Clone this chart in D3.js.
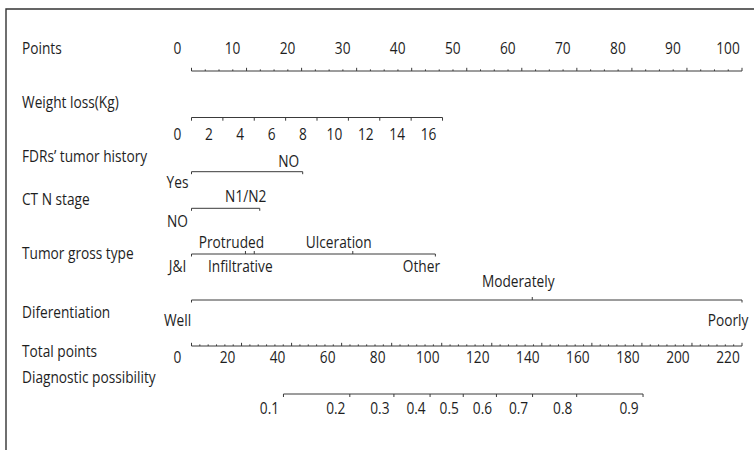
<!DOCTYPE html>
<html>
<head>
<meta charset="utf-8">
<script src="https://cdn.jsdelivr.net/npm/d3@7/dist/d3.min.js"></script>
<style>
  body { margin: 0; background: #fff; }
  svg text {
    font-family: "Open Sans", "Liberation Sans", sans-serif;
    font-size: 16.5px;
    fill: #1e1e1e;
  }
</style>
</head>
<body>
<svg id="nomo" width="754" height="450"></svg>
<script>
// ---- Nomogram data -------------------------------------------------------
const pointTicks = d3.range(0, 101, 10);

const weightTicks = d3.range(0, 17, 2);       // kg
const weightMaxKg = 16;
const weightMaxPoints = 45.6;                 // points at 16 kg

const fdrLevels = ["Yes", "NO"];
const fdrPoints = [0, 20.2];

const ctnLevels = ["NO", "N1/N2"];
const ctnPoints = [0, 12.4];

const grossLevels = ["J&I", "Protruded", "Infiltrative", "Ulceration", "Other"];
const grossPoints = [0, 9.8, 11.4, 29.3, 44.3];

const diffLevels = ["Well", "Moderately", "Poorly"];
const diffPoints = [0, 61.9, 100];

const totalTicks = d3.range(0, 221, 20);

const probTicks = [0.1, 0.2, 0.3, 0.4, 0.5, 0.6, 0.7, 0.8, 0.9];
const probMidTotal = 108.6;     // total points where possibility = 0.5
const totalPerLogit = 32.7;     // total points per unit of log-odds

// ---- Layout --------------------------------------------------------------
const svg = d3.select("#nomo");
const x0 = 191.5, x1 = 742;
const labelShift = -14;          // value labels sit just left of their tick
const squeeze = 0.83;            // condensed lettering
const ink = "#3a3a3a";

const xPoints = d3.scaleLinear().domain([0, 100]).range([x0, x1]);
const xTotal = d3.scaleLinear().domain([0, 220]).range([x0, x1]);
const xWeight = d3.scaleLinear().domain([0, weightMaxKg])
  .range([xPoints(0), xPoints(weightMaxPoints)]);
const logit = p => Math.log(p / (1 - p));
const xProb = p => xTotal(probMidTotal + totalPerLogit * logit(p));

// frame (top and left edges)
svg.append("path")
  .attr("d", "M6,450V9H754")
  .attr("fill", "none").attr("stroke", "#333").attr("stroke-width", 1.4);

function place(sel, fx, fy) {
  return sel.attr("transform", d => `translate(${fx(d)},${fy(d)}) scale(${squeeze},1)`);
}

// row titles
const rowTitles = [
  ["Points", 54], ["Weight loss(Kg)", 108], ["FDRs\u2019 tumor history", 161.5],
  ["CT N stage", 205], ["Tumor gross type", 259], ["Diferentiation", 318],
  ["Total points", 357], ["Diagnostic possibility", 383]
];
place(svg.selectAll("text.title").data(rowTitles).join("text").attr("class", "title"),
  () => 22, d => d[1]).text(d => d[0]);

function baseLine(xa, xb, y) {
  svg.append("line").attr("x1", xa).attr("x2", xb).attr("y1", y).attr("y2", y)
    .attr("stroke", ink).attr("stroke-width", 1);
}
function ticks(xs, y, len) {
  svg.append("g").selectAll("line").data(xs).join("line")
    .attr("x1", d => d).attr("x2", d => d)
    .attr("y1", y).attr("y2", y + len)
    .attr("stroke", ink).attr("stroke-width", 1);
}
function labels(items, y) {
  place(svg.append("g").selectAll("text").data(items).join("text"),
    d => d[0] + labelShift, () => y)
    .attr("text-anchor", "middle").text(d => d[1]);
}

// Points
{
  const y = 71;
  baseLine(xPoints(0), xPoints(100), y);
  ticks(d3.range(0, 100.01, 2.5).filter(v => v % 10 !== 0).map(xPoints), y, -1.6);
  ticks(pointTicks.map(xPoints), y, -3.2);
  labels(pointTicks.map(v => [xPoints(v), v]), 54);
}

// Weight loss
{
  const y = 117.5;
  baseLine(xWeight(0), xWeight(weightMaxKg), y);
  ticks(weightTicks.map(xWeight), y, 3.2);
  labels(weightTicks.map(v => [xWeight(v), v]), 140);
}

// Categorical rows: even levels labelled below, odd levels above
function categoryRow(levels, pts, y, aboveY, belowY) {
  const xs = pts.map(xPoints);
  baseLine(xs[0], xs[xs.length - 1], y);
  ticks([xs[0], xs[xs.length - 1]], y, 2.5);
  ticks(xs.slice(1, -1), y, -3);
  labels(levels.map((l, i) => [xs[i], l]).filter((d, i) => i % 2 === 1), aboveY);
  labels(levels.map((l, i) => [xs[i], l]).filter((d, i) => i % 2 === 0), belowY);
}
categoryRow(fdrLevels, fdrPoints, 171.7, 166.5, 188.3);
categoryRow(ctnLevels, ctnPoints, 208.3, 201.7, 226.7);
categoryRow(grossLevels, grossPoints, 254, 248.3, 271.7);
categoryRow(diffLevels, diffPoints, 300, 286.5, 326);

// Total points
{
  const y = 346;
  baseLine(xTotal(0), xTotal(220), y);
  ticks(d3.range(0, 220.01, 20 / 6).filter((v, i) => i % 6 !== 0).map(xTotal), y, -1.6);
  ticks(totalTicks.map(xTotal), y, -3.2);
  labels(totalTicks.map(v => [xTotal(v), v]), 363);
}

// Diagnostic possibility
{
  const y = 394;
  const xs = probTicks.map(xProb);
  baseLine(xs[0], xs[xs.length - 1], y);
  ticks(xs, y, 3);
  labels(probTicks.map(p => [xProb(p), p]), 413.5);
}
</script>
</body>
</html>
